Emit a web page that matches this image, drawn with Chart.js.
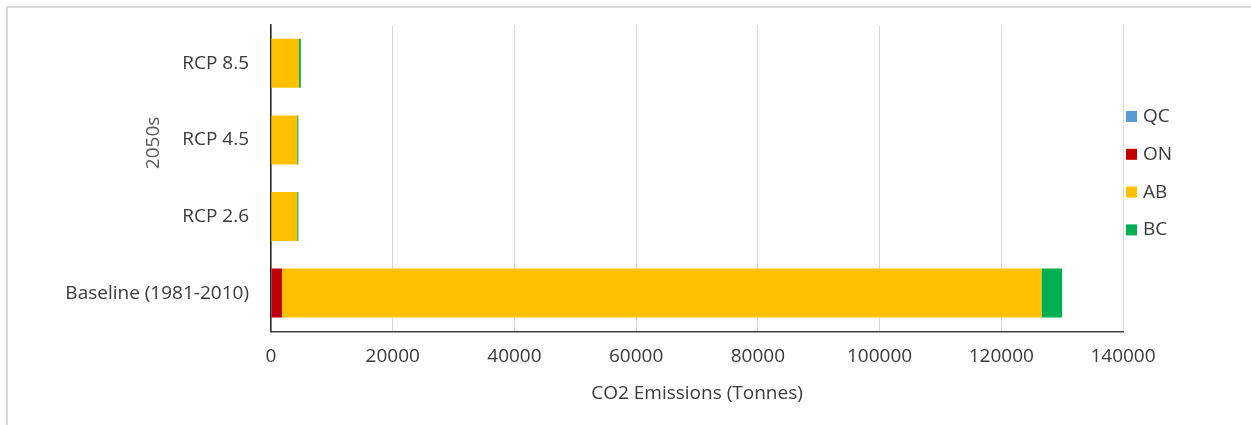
<!DOCTYPE html>
<html>
<head>
<meta charset="utf-8">
<script src="https://cdn.jsdelivr.net/npm/chart.js@4"></script>
<style>
  html, body { margin: 0; padding: 0; background: #fff; }
  #wrap { position: relative; width: 1251px; height: 425px; overflow: hidden; }
  #frame { position: absolute; left: 6px; top: 6px; width: 1300px; height: 500px;
           border-left: 2px solid #d9d9d9; border-top: 2px solid #d9d9d9; }
  canvas { position: absolute; left: 0; top: 0; }
</style>
</head>
<body>
<div id="wrap">
  <div id="frame"></div>
  <canvas id="chart" width="1251" height="425"></canvas>
</div>
<script>
const categories = ['RCP 8.5', 'RCP 4.5', 'RCP 2.6', 'Baseline (1981-2010)']
const groupLabel = '2050s'
const qc = [0, 0, 0, 0]
const on = [0, 0, 0, 1800]
const ab = [4600, 4300, 4300, 124800]
const bc = [300, 200, 200, 3400]
const xTicks = [0, 20000, 40000, 60000, 80000, 100000, 120000, 140000]

const fontFamily = "'Open Sans', sans-serif"
const font = { family: fontFamily, size: 19 }
const textColor = '#3a3a3a'

// rotated group label, centred on the three RCP rows only
const groupTitle = {
  id: 'groupTitle',
  afterDraw(chart) {
    const y = chart.scales.y
    const mid = (y.getPixelForValue(0) + y.getPixelForValue(2)) / 2
    const ctx = chart.ctx
    ctx.save()
    ctx.translate(154, mid + 3)
    ctx.rotate(-Math.PI / 2)
    ctx.font = `19px ${fontFamily}`
    ctx.fillStyle = '#595959'
    ctx.textAlign = 'center'
    ctx.textBaseline = 'middle'
    ctx.fillText(groupLabel, 0, 0)
    ctx.restore()
  },
}

// excel-style legend sitting just right of the plot
const sideLegend = {
  id: 'sideLegend',
  afterDraw(chart) {
    const ctx = chart.ctx
    const area = chart.chartArea
    const sets = chart.data.datasets
    const step = 37.8
    const startY = (area.top + area.bottom) / 2 - step * (sets.length - 1) / 2 - 5
    ctx.save()
    ctx.font = `19px ${fontFamily}`
    ctx.textBaseline = 'middle'
    sets.forEach((ds, i) => {
      const cy = startY + i * step
      ctx.fillStyle = ds.backgroundColor
      ctx.fillRect(area.right + 3, cy - 5.5, 11, 11)
      ctx.fillStyle = textColor
      ctx.fillText(ds.label, area.right + 20, cy)
    })
    ctx.restore()
  },
}

new Chart(document.getElementById('chart'), {
  type: 'bar',
  data: {
    labels: categories,
    datasets: [
      { label: 'QC', data: qc, backgroundColor: '#5b9bd5' },
      { label: 'ON', data: on, backgroundColor: '#c00000' },
      { label: 'AB', data: ab, backgroundColor: '#ffc000' },
      { label: 'BC', data: bc, backgroundColor: '#00b050' },
    ],
  },
  options: {
    indexAxis: 'y',
    responsive: false,
    animation: false,
    barPercentage: 0.64,
    categoryPercentage: 1,
    layout: { padding: { left: 60, top: 25, right: 128, bottom: 18 } },
    scales: {
      x: {
        stacked: true,
        min: 0,
        max: 140000,
        afterBuildTicks: (axis) => { axis.ticks = xTicks.map((v) => ({ value: v })) },
        ticks: {
          font,
          color: textColor,
          padding: 14,
          callback: (v) => String(v),
        },
        grid: { color: '#d9d9d9', lineWidth: 1, drawTicks: false },
        border: { display: true, color: '#404040', width: 1.5 },
        title: {
          display: true,
          text: 'CO2 Emissions (Tonnes)',
          font,
          color: textColor,
          padding: { top: 0, bottom: 2 },
        },
      },
      y: {
        stacked: true,
        afterFit: (axis) => {
          axis.width = 211
          axis.paddingTop = 0
          axis.paddingBottom = 0
        },
        ticks: { font, color: textColor, padding: 22 },
        grid: { display: false, drawTicks: false },
        border: { display: true, color: '#262626', width: 1.5 },
      },
    },
    plugins: {
      legend: { display: false },
      tooltip: { enabled: false },
    },
  },
  plugins: [groupTitle, sideLegend],
})
</script>
</body>
</html>
